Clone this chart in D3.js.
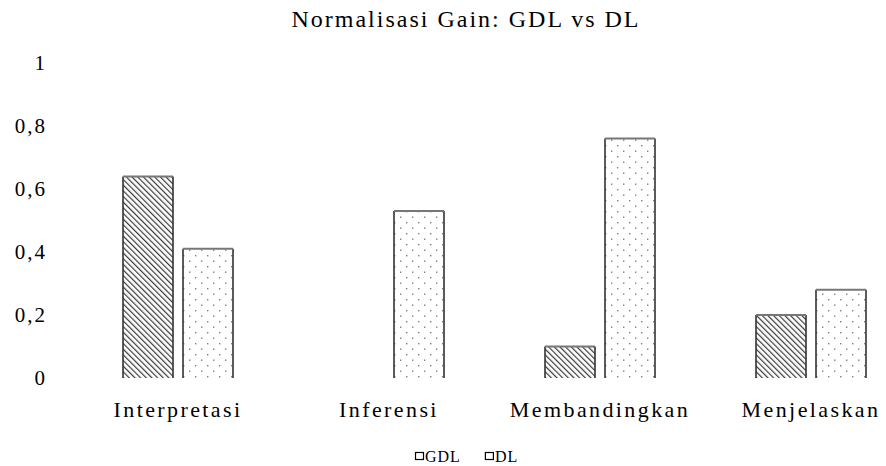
<!DOCTYPE html>
<html>
<head>
<meta charset="utf-8">
<script src="https://cdn.jsdelivr.net/npm/d3@7"></script>
<style>
  body { margin: 0; background: #fff; }
  svg { display: block; }
</style>
</head>
<body>
<svg width="886" height="466"></svg>
<script>
var width = 886,
  height = 466;

const categories = ["Interpretasi", "Inferensi", "Membandingkan", "Menjelaskan"];
const series = ["GDL", "DL"];
const gdlValues = [0.64, 0, 0.10, 0.20];
const dlValues = [0.41, 0.53, 0.76, 0.28];
const yTicks = [0, 0.2, 0.4, 0.6, 0.8, 1];
const title = "Normalisasi Gain: GDL vs DL";

const data = categories.map((c, i) => ({ cat: c, GDL: gdlValues[i], DL: dlValues[i] }));
const serif = "Liberation Serif, DejaVu Serif, serif";

const svg = d3.select("svg");

// patterns
const defs = svg.append("defs");
const hatch = defs.append("pattern")
  .attr("id", "hatch")
  .attr("patternUnits", "userSpaceOnUse")
  .attr("width", 4)
  .attr("height", 4)
  .attr("patternTransform", "rotate(-45)");
hatch.append("rect").attr("width", 4).attr("height", 4).attr("fill", "#fff");
hatch.append("line")
  .attr("x1", 0).attr("y1", 0).attr("x2", 0).attr("y2", 4)
  .attr("stroke", "#3a3a3a").attr("stroke-width", 2.4);

const dots = defs.append("pattern")
  .attr("id", "dots")
  .attr("patternUnits", "userSpaceOnUse")
  .attr("width", 12)
  .attr("height", 11);
dots.append("rect").attr("width", 12).attr("height", 11).attr("fill", "#fff");
[[2, 2], [8, 7.5]].forEach((p) => {
  dots.append("rect").attr("x", p[0]).attr("y", p[1]).attr("width", 1.4).attr("height", 1.4).attr("fill", "#808080");
});

const fills = { GDL: "url(#hatch)", DL: "url(#dots)" };

const x0 = d3.scaleBand().domain(categories).range([73, 917]);
const x1 = d3.scaleBand().domain(series).range([50, 160]).paddingInner(1 / 6);
const y = d3.scaleLinear().domain([0, 1]).range([378, 63]);

// title
svg.append("text")
  .attr("x", 466)
  .attr("y", 27)
  .attr("text-anchor", "middle")
  .style("font-family", serif)
  .style("font-size", "24px")
  .style("letter-spacing", "2px")
  .style("fill", "#000")
  .text(title);

// y labels
svg.append("g")
  .selectAll("text")
  .data(yTicks)
  .join("text")
  .attr("x", 47)
  .attr("y", (d) => y(d))
  .attr("dy", "0.35em")
  .attr("text-anchor", "end")
  .style("font-family", serif)
  .style("font-size", "21px")
  .style("letter-spacing", "2px")
  .style("fill", "#000")
  .text((d) => (d === 0 || d === 1) ? String(d) : d3.format(".1f")(d).replace(".", ","));

// bars
const groups = svg.append("g")
  .selectAll("g")
  .data(data)
  .join("g")
  .attr("transform", (d) => "translate(" + x0(d.cat) + ",0)");

const bars = groups.selectAll("g")
  .data((d) => series.map((s) => ({ key: s, value: d[s] })).filter((d) => d.value > 0))
  .join("g");

bars.append("rect")
  .attr("x", (d) => x1(d.key))
  .attr("y", (d) => y(d.value))
  .attr("width", x1.bandwidth())
  .attr("height", (d) => y(0) - y(d.value))
  .attr("fill", (d) => fills[d.key]);

bars.append("path")
  .attr("d", (d) => {
    var l = x1(d.key), r = l + x1.bandwidth(), t = y(d.value), b = y(0);
    return "M" + l + "," + b + "V" + t + "M" + r + "," + t + "V" + b;
  })
  .attr("fill", "none")
  .attr("stroke", "#333")
  .attr("stroke-width", 1.6);

bars.append("line")
  .attr("x1", (d) => x1(d.key))
  .attr("x2", (d) => x1(d.key) + x1.bandwidth())
  .attr("y1", (d) => y(d.value))
  .attr("y2", (d) => y(d.value))
  .attr("stroke", "#777")
  .attr("stroke-width", 2);

// category labels
svg.append("g")
  .selectAll("text")
  .data(categories)
  .join("text")
  .attr("x", (d) => x0(d) + x1("GDL") + (x1("DL") + x1.bandwidth() - x1("GDL")) / 2)
  .attr("y", 417)
  .attr("text-anchor", "middle")
  .style("font-family", serif)
  .style("font-size", "22px")
  .style("letter-spacing", "2.4px")
  .style("fill", "#000")
  .text((d) => d);

// legend
const legend = svg.append("g").attr("transform", "translate(415,456)");
var lx = 0;
series.forEach((s) => {
  legend.append("rect")
    .attr("x", lx + 0.5)
    .attr("y", -3.5)
    .attr("width", 8)
    .attr("height", 7)
    .attr("fill", "#fff")
    .attr("stroke", "#000")
    .attr("stroke-width", 1.2);
  var t = legend.append("text")
    .attr("x", lx + 10)
    .attr("y", 0)
    .attr("dy", "0.35em")
    .style("font-family", serif)
    .style("font-size", "16px")
    .style("letter-spacing", "1px")
    .style("fill", "#000")
    .text(s);
  lx += 10 + t.node().getComputedTextLength() + 24;
});
</script>
</body>
</html>
